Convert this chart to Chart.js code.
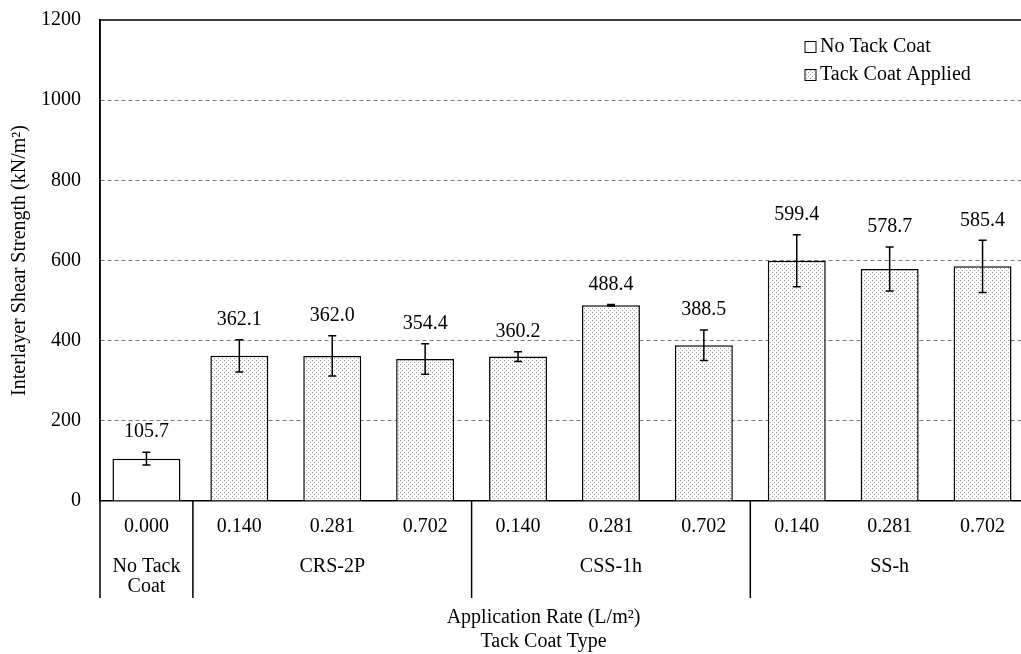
<!DOCTYPE html>
<html>
<head>
<meta charset="utf-8">
<script src="https://cdn.jsdelivr.net/npm/chart.js@4.4.1/dist/chart.umd.min.js"></script>
<style>
  html, body { margin: 0; padding: 0; background: #fff; overflow: hidden; }
  #wrap { width: 1034px; height: 654px; }
</style>
</head>
<body>
<div id="wrap"><canvas id="shearChart"></canvas></div>
<script>
const rates = ['0.000', '0.140', '0.281', '0.702', '0.140', '0.281', '0.702', '0.140', '0.281', '0.702'];
const groupNames = [['No Tack', 'Coat'], ['CRS-2P'], ['CSS-1h'], ['SS-h']];
const groupSizes = [1, 3, 3, 3];
const strength = [105.7, 362.1, 362.0, 354.4, 360.2, 488.4, 388.5, 599.4, 578.7, 585.4];
const errors = [16, 40, 50, 38, 12, 2, 38, 65, 55, 65];
const seriesNames = ['No Tack Coat', 'Tack Coat Applied'];
const yTicks = [0, 200, 400, 600, 800, 1000, 1200];

const serif = "'Liberation Serif', 'Times New Roman', serif";

// small dotted fill like the Excel pattern
function makeDots() {
    const c = document.createElement('canvas');
    c.width = 4;
    c.height = 4;
    const g = c.getContext('2d');
    g.fillStyle = '#fff';
    g.fillRect(0, 0, 4, 4);
    g.fillStyle = '#999';
    g.fillRect(0, 0, 1, 1);
    g.fillRect(2, 2, 1, 1);
    return g.createPattern(c, 'repeat');
}
const dots = makeDots();

// two-level category labels: rate on first line, group name under the middle bar
const labels = [];
groupSizes.forEach((n, g) => {
    for (let k = 0; k < n; k++) {
        const line = [rates[labels.length]];
        if (k === Math.floor(n / 2)) line.push('', ...groupNames[g]);
        labels.push(line);
    }
});

const noTack = strength.map((v, i) => i < groupSizes[0] ? v : null);
const withTack = strength.map((v, i) => i < groupSizes[0] ? null : v);

const errorBars = {
    id: 'errorBars',
    afterDatasetsDraw(chart) {
        const ctx = chart.ctx;
        const y = chart.scales.y;
        ctx.save();
        ctx.strokeStyle = '#000';
        ctx.lineWidth = 1.5;
        ctx.fillStyle = '#000';
        ctx.font = '20px ' + serif;
        ctx.textAlign = 'center';
        ctx.textBaseline = 'middle';
        chart.data.datasets.forEach((ds, di) => {
            chart.getDatasetMeta(di).data.forEach((bar, i) => {
                const v = ds.data[i];
                if (v == null) return;
                const top = y.getPixelForValue(v + errors[i]);
                const bot = y.getPixelForValue(v - errors[i]);
                ctx.beginPath();
                ctx.moveTo(bar.x, top); ctx.lineTo(bar.x, bot);
                ctx.moveTo(bar.x - 4, top); ctx.lineTo(bar.x + 4, top);
                ctx.moveTo(bar.x - 4, bot); ctx.lineTo(bar.x + 4, bot);
                ctx.stroke();
                ctx.fillText(v.toFixed(1), bar.x, top - 20);
            });
        });
        ctx.restore();
    }
};

const frame = {
    id: 'frame',
    afterDraw(chart) {
        const ctx = chart.ctx;
        const a = chart.chartArea;
        const x = chart.scales.x;
        const low = 598;
        ctx.save();
        ctx.strokeStyle = '#000';
        ctx.lineWidth = 1.5;
        ctx.setLineDash([]);
        ctx.beginPath();
        ctx.moveTo(a.left, a.top); ctx.lineTo(a.right, a.top);
        ctx.moveTo(a.left, a.top); ctx.lineTo(a.left, low);
        let idx = 0;
        groupSizes.slice(0, -1).forEach(n => {
            idx += n;
            const sx = (x.getPixelForValue(idx - 1) + x.getPixelForValue(idx)) / 2;
            ctx.moveTo(sx, a.bottom); ctx.lineTo(sx, low);
        });
        ctx.stroke();

        // x axis title
        ctx.fillStyle = '#000';
        ctx.font = '20px ' + serif;
        ctx.textAlign = 'center';
        ctx.textBaseline = 'middle';
        const cx = (a.left + a.right) / 2 - 21;
        ctx.fillText('Application Rate (L/m²)', cx, 618);
        ctx.fillText('Tack Coat Type', cx, 642);

        // legend inside the plot
        const lx = a.right - 224;
        [47, 75].forEach((ly, i) => {
            ctx.fillStyle = i === 0 ? '#fff' : dots;
            ctx.fillRect(lx, ly - 5.5, 11, 11);
            ctx.lineWidth = 1;
            ctx.strokeRect(lx, ly - 5.5, 11, 11);
            ctx.fillStyle = '#000';
            ctx.textAlign = 'left';
            ctx.fillText(seriesNames[i], lx + 15, ly);
        });
        ctx.restore();
    }
};

const ctx = document.getElementById('shearChart').getContext('2d');
const chart = new Chart(ctx, {
    type: 'bar',
    data: {
        labels: labels,
        datasets: [
            {
                label: seriesNames[0],
                data: noTack,
                backgroundColor: '#fff',
                borderColor: '#000',
                borderWidth: 1.5,
                barPercentage: 0.732,
                categoryPercentage: 1,
                grouped: false
            },
            {
                label: seriesNames[1],
                data: withTack,
                backgroundColor: dots,
                borderColor: '#000',
                borderWidth: 1.5,
                barPercentage: 0.624,
                categoryPercentage: 1,
                grouped: false
            }
        ]
    },
    options: {
        responsive: true,
        maintainAspectRatio: false,
        animation: false,
        layout: { padding: { top: 20, right: 5, left: 0, bottom: 0 } },
        plugins: {
            legend: { display: false },
            tooltip: { enabled: false }
        },
        scales: {
            x: {
                ticks: {
                    color: '#000',
                    font: { family: serif, size: 20, lineHeight: 1 },
                    padding: 8,
                    maxRotation: 0,
                    autoSkip: false
                },
                grid: { display: false },
                border: { color: '#000', width: 1.5 },
                afterFit(scale) { scale.height = 153; }
            },
            y: {
                min: 0,
                max: 1200,
                afterBuildTicks(scale) { scale.ticks = yTicks.map(v => ({ value: v })); },
                ticks: {
                    color: '#000',
                    padding: 0,
                    font: { family: serif, size: 20 },
                    callback: v => String(v)
                },
                grid: {
                    drawTicks: true,
                    tickLength: 19,
                    tickColor: 'rgba(0,0,0,0)',
                    lineWidth: 1,
                    color: c => (c.tick && (c.tick.value === 0 || c.tick.value === 1200)) ? 'rgba(0,0,0,0)' : '#7a7a7a'
                },
                border: { color: '#000', width: 1.5, dash: [4, 3] },
                title: {
                    display: true,
                    text: 'Interlayer Shear Strength (kN/m²)',
                    color: '#000',
                    font: { family: serif, size: 20 },
                    padding: { top: 8, bottom: 0 }
                },
                afterFit(scale) { scale.width = 100; }
            }
        }
    },
    plugins: [errorBars, frame]
});
</script>
</body>
</html>
